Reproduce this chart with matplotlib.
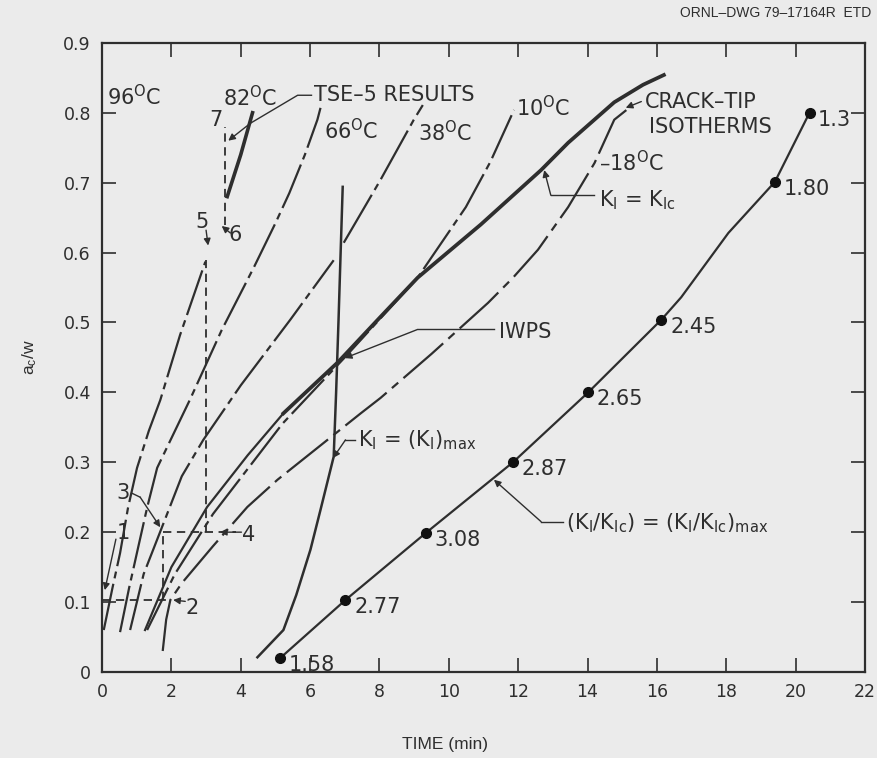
import matplotlib
matplotlib.use("Agg")
import matplotlib.pyplot as plt

plt.rcParams["font.family"] = ["DejaVu Sans"]
plt.rcParams["mathtext.default"] = "regular"
plt.rcParams["lines.scale_dashes"] = False

INK = "#2e2e2e"
BG = "#ebebeb"

# crack-tip isotherms, time (min) vs a/w
t_96 = [0.05, 0.30, 0.52, 0.75, 1.01, 1.35, 1.68, 2.25, 2.98]
a_96 = [0.06, 0.12, 0.17, 0.235, 0.292, 0.345, 0.389, 0.482, 0.587]

t_66 = [0.52, 0.78, 1.05, 1.30, 1.59, 2.53, 3.45, 4.39, 5.00, 5.40, 5.85, 6.21, 6.30]
a_66 = [0.057, 0.12, 0.18, 0.235, 0.292, 0.389, 0.489, 0.58, 0.642, 0.685, 0.74, 0.79, 0.807]

t_38_lo = [0.81, 1.20, 1.72, 2.30, 2.92, 4.00, 5.43, 6.68]
a_38_lo = [0.06, 0.14, 0.206, 0.28, 0.332, 0.41, 0.504, 0.589]
t_38_hi = [6.97, 8.03, 8.99, 9.25]
a_38_hi = [0.614, 0.704, 0.79, 0.811]

t_10 = [1.30, 2.10, 3.20, 5.20, 7.00, 9.10, 10.49, 11.20, 11.88]
a_10 = [0.06, 0.14, 0.226, 0.355, 0.45, 0.564, 0.665, 0.73, 0.804]

t_m18 = [1.75, 1.85, 1.97, 2.30, 3.20, 4.19, 5.06, 6.50, 7.46, 8.03, 9.50,
         11.13, 11.85, 12.57, 13.44, 14.20, 14.77, 15.20]
a_m18 = [0.03, 0.075, 0.103, 0.127, 0.18, 0.236, 0.275, 0.332, 0.37, 0.392,
         0.455, 0.528, 0.564, 0.604, 0.665, 0.728, 0.79, 0.807]

# K_I = K_Ic (thin lower branch, heavy upper branch)
t_kic_lo = [1.24, 2.00, 3.03, 4.20, 5.23]
a_kic_lo = [0.06, 0.15, 0.236, 0.31, 0.37]
t_kic_hi = [5.23, 6.80, 8.03, 9.10, 10.92, 12.66, 13.44, 14.77, 15.60, 16.20]
a_kic_hi = [0.37, 0.443, 0.508, 0.564, 0.64, 0.718, 0.757, 0.815, 0.84, 0.854]

# K_I = (K_I)max
t_kmax = [6.94, 6.88, 6.82, 6.75, 6.68, 6.30, 6.01, 5.60, 5.23, 4.48]
a_kmax = [0.694, 0.60, 0.504, 0.40, 0.308, 0.232, 0.175, 0.11, 0.06, 0.021]

# TSE-5 results segment
t_tse = [3.61, 4.00, 4.34]
a_tse = [0.68, 0.74, 0.80]

# (K_I/K_Ic) = (K_I/K_Ic)max with ratio markers
t_ratio = [5.14, 7.02, 9.34, 11.85, 14.02, 16.13, 16.70, 18.06, 19.40, 20.40]
a_ratio = [0.02, 0.103, 0.199, 0.30, 0.40, 0.504, 0.536, 0.628, 0.701, 0.80]
t_dots = [5.14, 7.02, 9.34, 11.85, 14.02, 16.13, 19.40, 20.40]
a_dots = [0.02, 0.103, 0.199, 0.30, 0.40, 0.504, 0.701, 0.80]
dot_labels = ["1.58", "2.77", "3.08", "2.87", "2.65", "2.45", "1.80", "1.3"]

# experiment path (dashed)
path_t = [[0.0, 2.0], [1.76, 1.76], [1.76, 3.85], [3.0, 3.0], [3.55, 3.55]]
path_a = [[0.103, 0.103], [0.103, 0.2], [0.2, 0.2], [0.2, 0.59], [0.64, 0.78]]

# numbered test points (label positions)
pt_names = ["1", "2", "3", "4", "5", "6", "7"]
pt_t = [0.61, 2.60, 0.61, 4.22, 2.89, 3.84, 3.27]
pt_a = [0.199, 0.092, 0.256, 0.196, 0.644, 0.625, 0.79]

fig = plt.figure(figsize=(8.78, 7.58), dpi=100, facecolor=BG)
ax = fig.add_axes([0.1162, 0.1135, 0.869, 0.830], facecolor=BG)

dashdot = (0, (34, 4, 5, 4))
ax.plot(t_96, a_96, color=INK, lw=1.6, ls=dashdot)
ax.plot(t_66, a_66, color=INK, lw=1.6, ls=dashdot)
ax.plot(t_38_lo, a_38_lo, color=INK, lw=1.6, ls=dashdot)
ax.plot(t_38_hi, a_38_hi, color=INK, lw=1.6, ls=(0, (40, 4, 5, 4)))
ax.plot(t_10, a_10, color=INK, lw=1.6, ls=dashdot)
ax.plot(t_m18, a_m18, color=INK, lw=1.6, ls=(0, (38, 5, 6, 5)))
ax.plot(t_kic_lo, a_kic_lo, color=INK, lw=1.6)
ax.plot(t_kic_hi, a_kic_hi, color=INK, lw=2.7)
ax.plot(t_kmax, a_kmax, color=INK, lw=1.8)
ax.plot(t_tse, a_tse, color=INK, lw=2.6)
ax.plot(t_ratio, a_ratio, color=INK, lw=1.6)
ax.plot(t_dots, a_dots, "o", color="#111111", ms=7)
for xs, ys in zip(path_t, path_a):
    ax.plot(xs, ys, color=INK, lw=1.3, ls=(0, (6, 4)))

txt = dict(fontsize=15, color=INK, va="center")
for t, a, s in zip(t_dots, a_dots, dot_labels):
    ax.text(t + 0.25, a - 0.01, s, **txt)
for s, t, a in zip(pt_names, pt_t, pt_a):
    ax.text(t, a, s, ha="center", **txt)

ax.text(0.14, 0.823, "96$^{O}$C", **txt)
ax.text(3.5, 0.821, "82$^{O}$C", **txt)
ax.text(6.1, 0.825, "TSE–5 RESULTS", **txt)
ax.text(6.39, 0.775, "66$^{O}$C", **txt)
ax.text(9.1, 0.772, "38$^{O}$C", **txt)
ax.text(11.94, 0.807, "10$^{O}$C", **txt)
ax.text(15.64, 0.815, "CRACK–TIP", **txt)
ax.text(15.78, 0.78, "ISOTHERMS", **txt)
ax.text(14.34, 0.728, "–18$^{O}$C", **txt)
ax.text(14.34, 0.675, "K$_{I}$ = K$_{Ic}$", **txt)
ax.text(11.45, 0.486, "IWPS", **txt)
ax.text(7.37, 0.332, "K$_{I}$ = (K$_{I}$)$_{max}$", **txt)
ax.text(13.38, 0.213, "(K$_{I}$/K$_{Ic}$) = (K$_{I}$/K$_{Ic}$)$_{max}$", **txt)

arrow = dict(arrowstyle="-|>", color=INK, lw=1.0, mutation_scale=10,
             shrinkA=0, shrinkB=0)
ax.annotate("", xy=(3.64, 0.76), xytext=(4.28, 0.785), arrowprops=arrow)
ax.plot([6.04, 5.64, 4.28], [0.825, 0.825, 0.785], color=INK, lw=1.0)
ax.annotate("", xy=(15.1, 0.807), xytext=(15.55, 0.816), arrowprops=arrow)
ax.annotate("", xy=(12.75, 0.718), xytext=(12.94, 0.682), arrowprops=arrow)
ax.plot([12.94, 14.2], [0.682, 0.682], color=INK, lw=1.0)
ax.annotate("", xy=(7.0, 0.449), xytext=(9.1, 0.49), arrowprops=arrow)
ax.plot([9.1, 11.3], [0.49, 0.49], color=INK, lw=1.0)
ax.annotate("", xy=(6.66, 0.306), xytext=(7.02, 0.332), arrowprops=arrow)
ax.plot([7.02, 7.3], [0.332, 0.332], color=INK, lw=1.0)
ax.annotate("", xy=(11.3, 0.275), xytext=(12.66, 0.215), arrowprops=arrow)
ax.plot([12.66, 13.3], [0.215, 0.215], color=INK, lw=1.0)
ax.annotate("", xy=(0.08, 0.117), xytext=(0.4, 0.19), arrowprops=arrow)
ax.annotate("", xy=(1.68, 0.207), xytext=(1.1, 0.25), arrowprops=arrow)
ax.plot([0.85, 1.1], [0.256, 0.25], color=INK, lw=1.0)
ax.annotate("", xy=(2.05, 0.103), xytext=(2.4, 0.101), arrowprops=arrow)
ax.annotate("", xy=(3.4, 0.2), xytext=(4.02, 0.2), arrowprops=arrow)
ax.annotate("", xy=(3.06, 0.61), xytext=(3.0, 0.632), arrowprops=arrow)
ax.annotate("", xy=(3.45, 0.638), xytext=(3.7, 0.628), arrowprops=arrow)

ax.set_xlim(0, 22)
ax.set_ylim(0, 0.9)
ax.set_xticks(range(0, 23, 2))
ax.set_yticks([i / 10 for i in range(10)])
ax.set_yticklabels(["0"] + [f"{i / 10:.1f}" for i in range(1, 10)])
ax.tick_params(direction="in", length=10, width=1.2, top=True, right=True,
               labelsize=12.5, colors=INK, pad=8)
for sp in ax.spines.values():
    sp.set_color(INK)
    sp.set_linewidth(1.6)

side = dict(fontsize=12.5, color=INK, family=["Liberation Sans", "DejaVu Sans"])
fig.text(445 / 878, 1 - 745 / 758, "TIME (min)", ha="center", va="center", **side)
fig.text(30 / 878, 1 - 357 / 758, "a$_c$/w", rotation=90, ha="center",
         va="center", **side)
fig.text(0.775, 0.978, "ORNL–DWG 79–17164R  ETD", fontsize=10, color=INK,
         family=["Liberation Sans", "DejaVu Sans"])

fig.savefig("out.png", dpi=100, facecolor=BG)
